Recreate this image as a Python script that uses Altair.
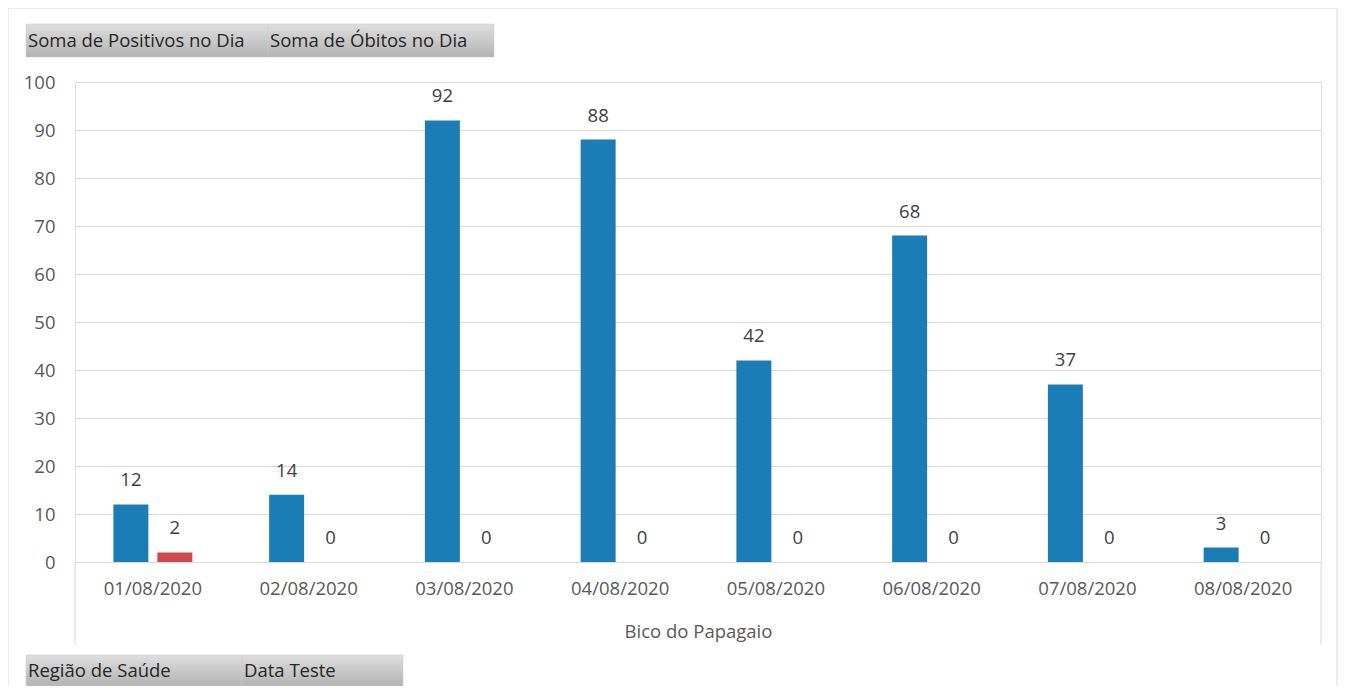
import altair as alt
import pandas as pd

FONT = "Open Sans"
FS = 18.5

datas = ["01/08/2020", "02/08/2020", "03/08/2020", "04/08/2020",
         "05/08/2020", "06/08/2020", "07/08/2020", "08/08/2020"]
positivos = [12, 14, 92, 88, 42, 68, 37, 3]
obitos = [2, 0, 0, 0, 0, 0, 0, 0]
series = ["Soma de Positivos no Dia", "Soma de Óbitos no Dia"]
cores = ["#1b7db5", "#d0474f"]
regiao = "Bico do Papagaio"
botoes_baixo = ["Região de Saúde", "Data Teste"]
y_ticks = [0, 10, 20, 30, 40, 50, 60, 70, 80, 90, 100]

rows = []
for d, p, o in zip(datas, positivos, obitos):
    rows.append({"data": d, "serie": series[0], "valor": p})
    rows.append({"data": d, "serie": series[1], "valor": o})
df = pd.DataFrame(rows)

W, H = 1246, 480

x = alt.X(
    "data:N", sort=datas,
    scale=alt.Scale(paddingInner=0.493, paddingOuter=0.2465),
    axis=alt.Axis(title=regiao, labelAngle=0, ticks=False, domain=True,
                  domainColor="#d9d9d9", domainWidth=1,
                  labelFont=FONT, labelFontSize=FS, labelColor="#595959",
                  labelPadding=17,
                  titleFont=FONT, titleFontSize=FS, titleFontWeight="normal",
                  titleColor="#595959", titlePadding=25),
)
xo = alt.XOffset("serie:N", sort=series,
                 scale=alt.Scale(paddingInner=0.2045, paddingOuter=0))
y = alt.Y(
    "valor:Q", scale=alt.Scale(domain=[0, 100]),
    axis=alt.Axis(title=None, values=y_ticks, domain=False, ticks=False,
                  gridColor="#d9d9d9", gridWidth=1,
                  labelFont=FONT, labelFontSize=FS, labelColor="#595959",
                  labelPadding=20),
)

bars = alt.Chart(df).mark_bar().encode(
    x=x, xOffset=xo, y=y,
    color=alt.Color("serie:N", scale=alt.Scale(domain=series, range=cores), legend=None),
)
labels = alt.Chart(df).mark_text(
    dy=-24, baseline="middle", font=FONT, fontSize=FS, color="#404040"
).encode(x=x, xOffset=xo, y=y, text="valor:Q")

one = alt.Data(values=[{}])

grad = alt.LinearGradient(
    gradient="linear",
    stops=[alt.GradientStop(color="#dedede", offset=0),
           alt.GradientStop(color="#b3b3b3", offset=1)],
    x1=0, x2=0, y1=0, y2=1,
)

def button(x1, x2, y1, y2, txt):
    r = alt.Chart(one).mark_rect(color=grad, stroke="#c8c8c8", strokeWidth=0.5).encode(
        x=alt.value(x1), x2=alt.value(x2), y=alt.value(y1), y2=alt.value(y2))
    t = alt.Chart(one).mark_text(align="left", baseline="middle", font=FONT,
                                 fontSize=FS, color="#262626").encode(
        x=alt.value(x1 + 2), y=alt.value((y1 + y2) / 2), text=alt.value(txt))
    return [r, t]

def rule(x1, x2, y1, y2, color="#d9d9d9"):
    return alt.Chart(one).mark_rule(color=color, strokeWidth=1).encode(
        x=alt.value(x1), x2=alt.value(x2), y=alt.value(y1), y2=alt.value(y2))

deco = []
# outer frame
deco.append(rule(-67, 1262, -74, -74))
deco.append(rule(-67, -67, -74, 610))
deco.append(rule(1262, 1262, -74, 610))
# category axis separators
deco.append(rule(0, 0, H, 563))
deco.append(rule(W, W, H, 563))
# buttons
deco += button(-49, 193, -58, -25, series[0])
deco += button(193, 419, -58, -25, series[1])
deco += button(-49, 167, 573, 604, botoes_baixo[0])
deco += button(167, 328, 573, 604, botoes_baixo[1])

chart = alt.layer(bars, labels, *deco).properties(
    width=W, height=H,
    autosize=alt.AutoSizeParams(type="none"),
    padding={"left": 67, "top": 74, "right": 17, "bottom": 124},
).configure_view(stroke=None).configure(background="white")

chart.save("out.html", embed_options={"renderer": "svg", "actions": False})
